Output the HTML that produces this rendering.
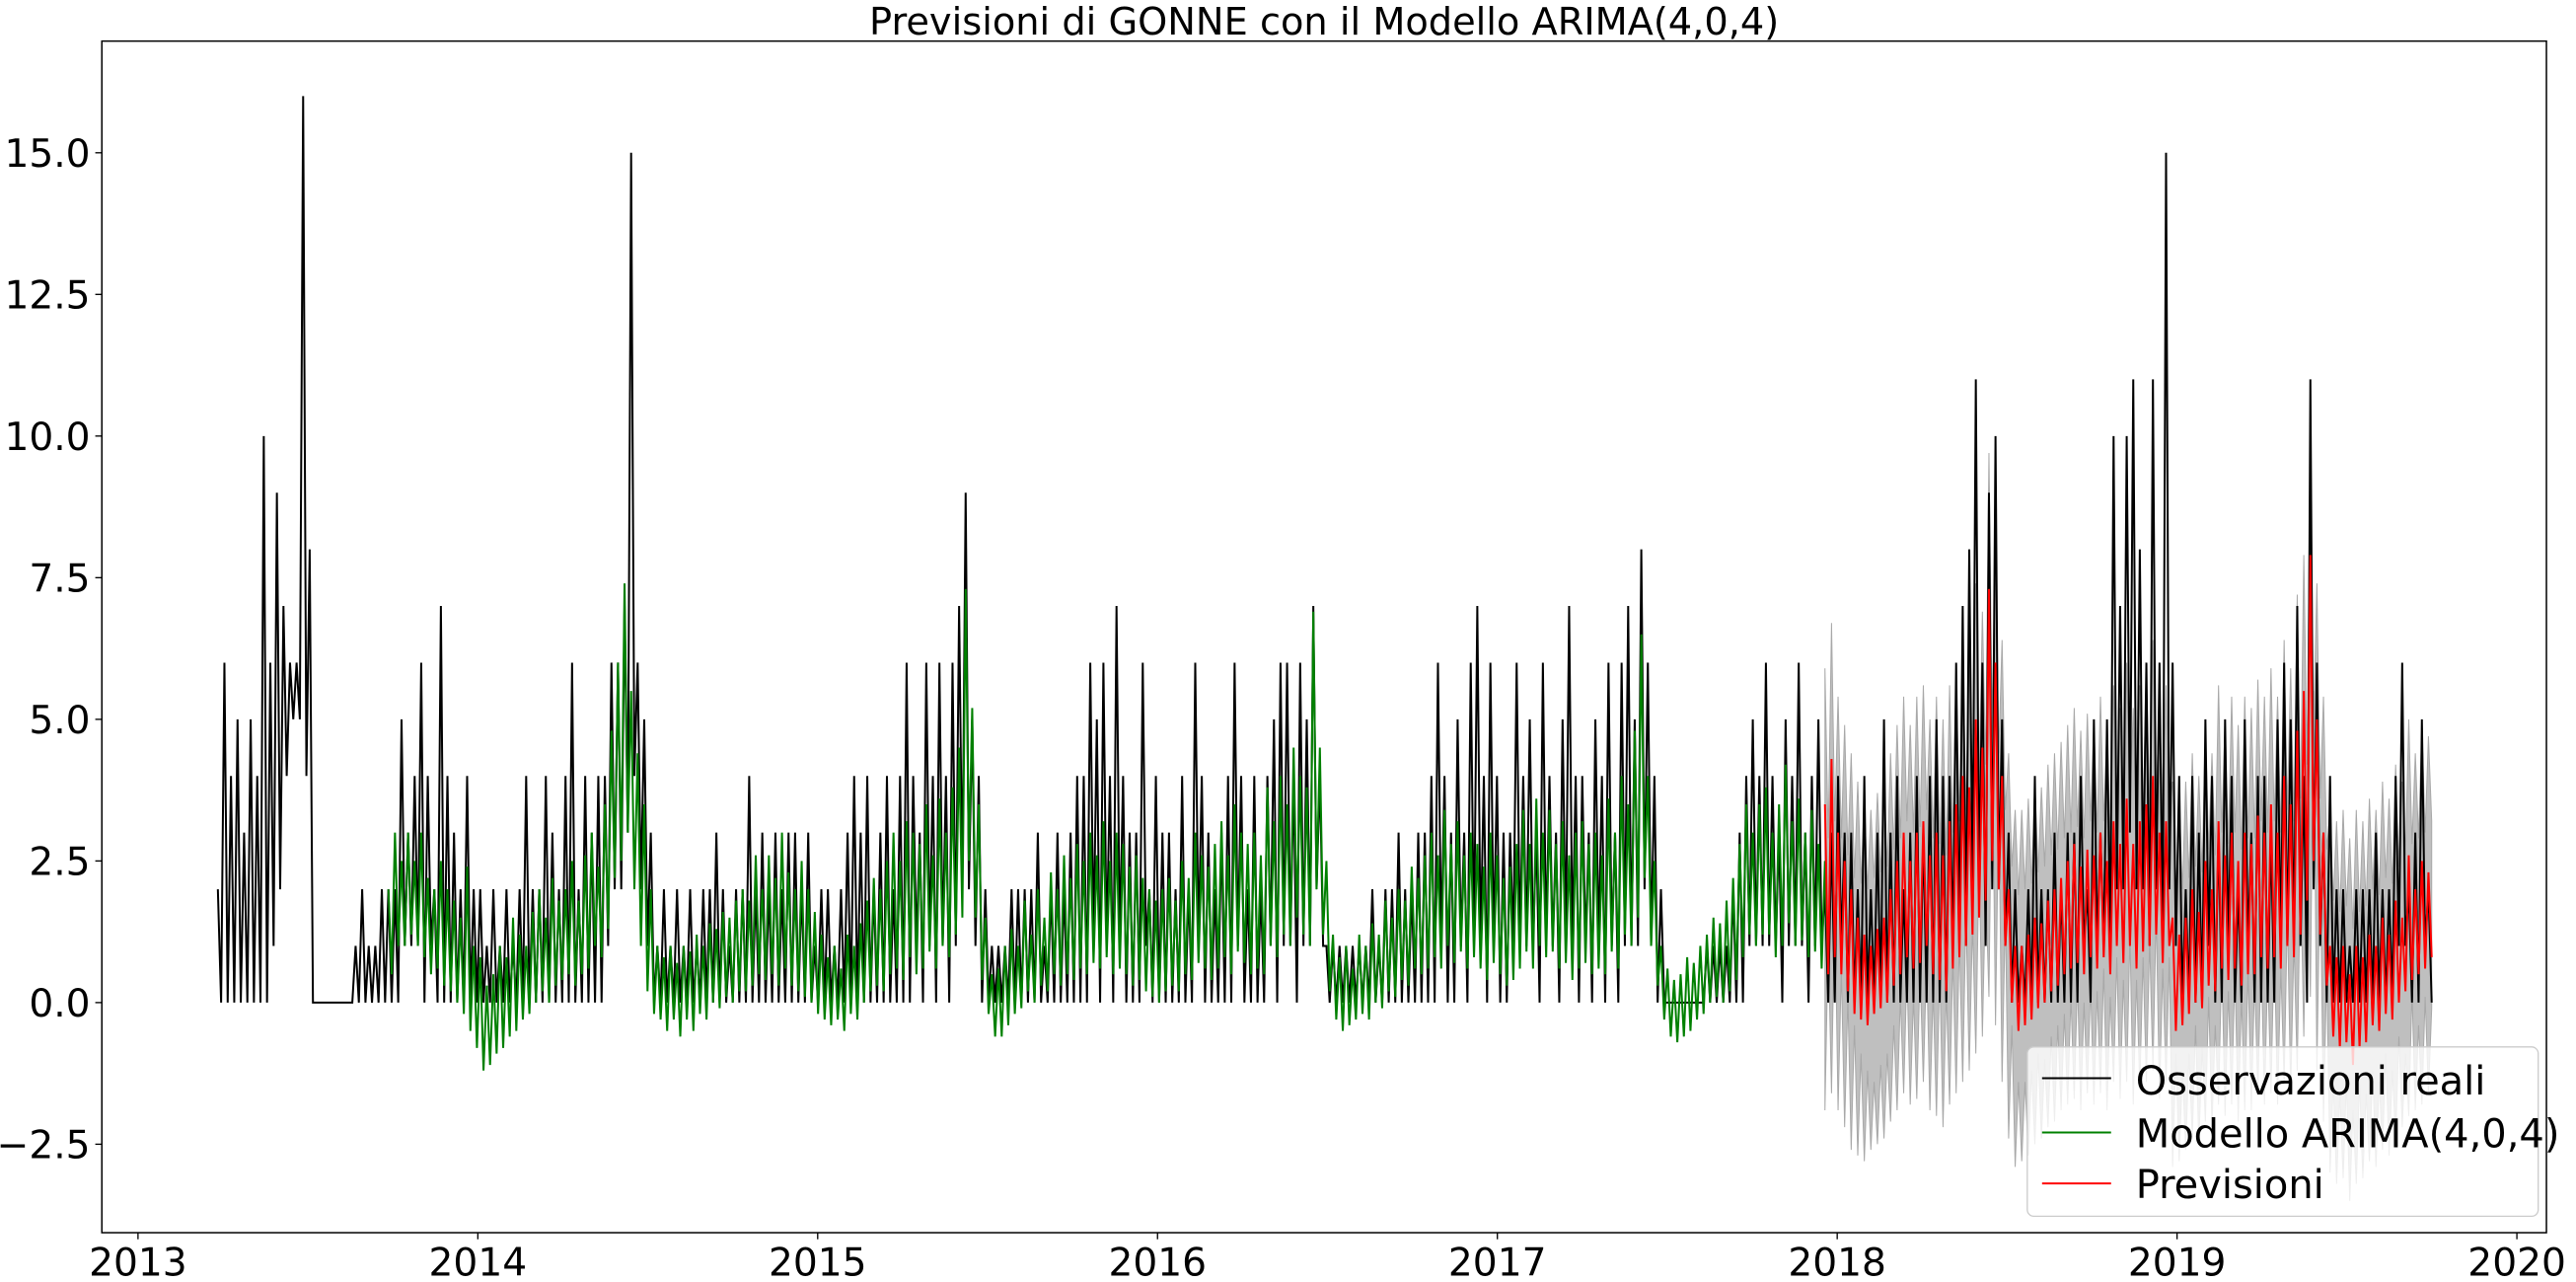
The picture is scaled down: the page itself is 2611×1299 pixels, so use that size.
<!DOCTYPE html>
<html><head><meta charset="utf-8">
<style>
html,body{margin:0;padding:0;background:#fff;}
svg{display:block;}
text{font-family:"DejaVu Sans","Liberation Sans",sans-serif;fill:#000;}
</style></head>
<body>
<svg id="chart" width="2611" height="1299" viewBox="0 0 1568 780" preserveAspectRatio="none" xmlns="http://www.w3.org/2000/svg">
<rect x="0" y="0" width="1568" height="780" fill="#fff"/>
<text x="806" y="21" font-size="23" text-anchor="middle">Previsioni di GONNE con il Modello ARIMA(4,0,4)</text>
<g id="band"></g>
<g id="obs"></g>
<g id="model"></g>
<g id="fc"></g>
<rect x="62" y="25" width="1488" height="725" fill="none" stroke="#000" stroke-width="0.9"/>
<g id="yaxis"></g>
<g id="xaxis"></g>
<g>
<rect x="1234" y="637" width="311" height="103" rx="4" fill="#fff" fill-opacity="0.8" stroke="#cccccc" stroke-width="0.8"/>
<g><line x1="1243" y1="656" x2="1285" y2="656" stroke="#000" stroke-width="1.2"/><text x="1300" y="666" font-size="24">Osservazioni reali</text></g>
<g><line x1="1243" y1="689" x2="1285" y2="689" stroke="#008000" stroke-width="1.2"/><text x="1300" y="698" font-size="24">Modello ARIMA(4,0,4)</text></g>
<g><line x1="1243" y1="720" x2="1285" y2="720" stroke="#ff0000" stroke-width="1.2"/><text x="1300" y="729" font-size="24">Previsioni</text></g>
</g>
</svg>
<script>
// weekly data
const startYear = 2013.235;
const obsPeak = [
2,6,4,5,3,5,4,10,6,9,7,6,6,16,8,0,0,0,0,0,0,1,2,1,1,2,2,2,5,3,4,6,4,2,7,4,3,2,4,2,2,
1,2,1,2,1,2,4,2,2,4,3,2,4,6,2,4,3,4,4,6,6,7,15,6,5,3,1,2,1,2,1,2,1,2,2,3,2,1,2,2,4,2,3,2,3,2,3,3,2,3,1,2,
2,1,2,3,4,3,4,2,3,4,2,4,6,4,3,6,4,6,4,6,7,9,5,4,2,1,1,1,2,2,2,2,3,1,2,3,2,3,4,4,6,5,6,4,7,4,3,3,6,2,4,3,
3,2,4,2,6,4,3,2,3,4,6,4,2,4,2,4,5,6,6,4,6,5,7,4,1,1,1,1,1,1,1,2,1,2,2,3,2,2,3,3,4,6,4,3,5,3,6,7,4,6,4,3,
3,6,4,5,3,6,4,3,5,7,4,4,3,5,4,6,3,6,7,5,8,6,4,2,0,0,0,0,0,0,1,1,1,1,2,3,4,5,4,6,4,3,5,4,6,3,4,5,2,3,4,3,
3,2,4,2,3,5,3,4,2,3,4,3,4,5,4,4,6,7,8,11,6,9,10,5,3,2,1,2,4,2,2,3,2,3,3,4,2,5,3,5,10,7,10,11,8,6,11,6,15,6,
4,2,4,3,5,4,3,5,4,2,5,3,4,4,3,5,6,5,7,4,11,6,3,4,2,2,1,2,2,2,3,2,2,4,6,2,3,5,2];
const obsTrough = [
0,0,0,0,0,0,0,0,1,2,4,5,5,4,0,0,0,0,0,0,0,0,0,0,0,0,0,0,1,1,1,0,1,0,0,0,0,0,0,0,0,
0,0,0,0,0,0,0,0,0,0,0,0,0,0,0,0,0,0,1,2,2,3,4,2,1,0,0,0,0,0,0,0,0,0,0,0,0,0,0,0,0,0,0,0,0,0,0,0,0,0,0,0,
0,0,0,0,0,0,0,0,0,0,0,0,0,1,0,1,0,1,0,1,2,2,1,0,0,0,0,0,0,0,0,0,0,0,0,0,0,0,0,0,1,0,1,0,1,0,0,0,1,0,0,0,
0,0,0,0,1,0,0,0,0,0,1,0,0,0,0,1,0,1,1,0,1,1,2,1,0,0,0,0,0,0,0,0,0,0,0,0,0,0,0,0,0,1,0,0,1,0,1,1,0,1,0,0,
1,1,1,1,0,1,1,0,1,1,0,1,0,1,0,1,0,1,1,1,2,1,0,0,0,0,0,0,0,0,0,0,0,0,0,0,1,1,1,1,1,0,1,1,1,0,1,1,0,0,1,0,
0,0,0,0,0,0,0,0,0,0,0,0,0,0,0,1,1,1,2,2,1,2,2,1,0,0,0,0,0,0,0,0,0,0,0,1,0,1,1,1,2,2,3,2,2,1,2,1,2,1,
0,0,0,0,1,0,0,1,0,0,1,0,0,0,0,1,1,1,1,0,2,1,0,0,0,0,0,0,0,0,0,0,0,1,1,0,0,1,0];
const modelStartWeek = 26;
const modelHigh = [
2,3,2.5,3,2.5,3,2.2,2,2.5,2,1.8,1.5,2.4,1,0.8,
0.3,0.5,1.0,0.8,1.5,1.2,1.0,1.6,2.0,1.5,2.2,1.8,2.0,2.5,1.8,2.6,3.0,2.4,3.5,4.8,6.0,7.4,5.5,4.4,3.5,2.0,
1.0,0.8,1.0,0.7,1.0,0.9,1.2,1.0,1.4,1.3,1.6,1.5,1.8,2.0,1.8,2.6,2.0,2.6,2.2,3.0,2.3,2.0,2.5,2.0,1.6,1.2,
0.8,1.0,0.6,1.2,1.0,1.4,1.8,2.2,2.0,2.5,3.0,2.5,3.2,3.0,2.8,3.5,2.6,3.6,3.0,3.8,4.5,7.3,5.2,3.5,1.5,0.5,
0.6,1.0,1.3,1.0,1.8,1.2,2.0,1.5,2.3,2.0,2.6,2.2,2.8,2.5,3.0,2.6,3.2,2.5,3.0,2.8,2.4,2.6,2.2,2.0,1.8,2.0,
2.2,1.8,2.5,2.2,3.0,2.6,2.4,2.8,3.2,2.6,3.5,3.0,2.8,3.0,2.6,3.8,3.2,4.0,3.5,4.5,4.0,3.8,6.9,4.5,2.5,1.2,
0.8,1.0,0.6,1.2,1.0,1.4,1.2,1.8,1.5,2.0,1.8,2.4,2.2,2.6,3.0,2.6,3.4,2.8,3.2,2.6,3.0,2.8,2.4,3.0,2.6,2.2,
2.4,2.8,3.4,2.8,3.6,3.0,3.4,2.8,3.2,2.6,3.0,3.2,2.8,3.0,2.6,3.6,3.0,4.0,3.5,4.8,6.5,4.0,2.5,1.0,0.6,0.4,
0.5,0.8,0.7,1.0,1.2,1.5,1.4,1.8,2.2,2.8,3.5,3.0,3.5,3.8,3.0,3.5,4.2,3.2,3.6,3.0,3.4,2.8,2.5];
const modelLow = [
0.5,1,1,1.2,1,0.8,0.5,0.6,0.3,0.2,0,-0.2,-0.5,-0.8,-1.2,
-1.1,-0.9,-0.8,-0.6,-0.5,-0.3,-0.2,0,0.2,0,0.3,0.4,0.5,0.3,0.5,0.6,1.0,0.8,1.3,2.2,2.5,3.0,2.0,1.0,0.2,-0.2,
-0.3,-0.5,-0.3,-0.6,-0.3,-0.5,-0.2,-0.3,0,-0.1,0.1,0,0.2,0.2,0.3,0.5,0.4,0.5,0.3,0.6,0.3,0.2,0.1,0,-0.2,-0.3,
-0.4,-0.3,-0.5,-0.2,-0.3,0,0.2,0.3,0.2,0.5,0.6,0.4,0.8,0.5,0.6,0.9,0.6,1.0,0.8,1.2,1.5,2.5,1.5,0.4,-0.2,-0.6,
-0.6,-0.4,-0.2,-0.1,0.2,0,0.3,0.2,0.5,0.3,0.5,0.4,0.6,0.5,0.7,0.6,0.8,0.5,0.6,0.5,0.3,0.4,0.2,0.1,0,0.2,
0.3,0.2,0.5,0.4,0.7,0.6,0.4,0.6,0.8,0.5,0.9,0.7,0.5,0.6,0.5,1.0,0.8,1.2,1.0,1.5,1.2,1.0,2.0,1.2,0.2,-0.3,
-0.5,-0.4,-0.3,-0.2,-0.3,0,-0.1,0.2,0.1,0.4,0.3,0.6,0.5,0.6,0.8,0.6,1.0,0.7,0.9,0.6,0.8,0.6,0.4,0.7,0.5,0.3,
0.4,0.6,0.9,0.6,1.0,0.8,0.9,0.6,0.7,0.4,0.6,0.7,0.5,0.6,0.5,0.9,0.6,1.2,1.0,1.5,2.2,1.0,0.3,-0.3,-0.6,-0.7,
-0.6,-0.5,-0.3,-0.2,0,0.1,0,0.2,0.4,0.8,1.2,1.0,1.2,1.2,0.8,1.0,1.4,1.0,1.1,0.8,0.9,0.6,0.5];
const fcStartWeek = 245;
const fcHigh = [
3.5,4.3,3.0,2.5,
2.0,1.5,1.2,1.0,1.3,1.5,2.0,2.5,3.0,2.5,3.0,3.2,2.6,3.0,2.6,3.2,3.5,4.0,3.8,5.0,4.5,7.3,6.0,4.0,2.0,1.0,
1.0,1.2,1.5,1.4,1.8,2.0,2.2,2.5,2.8,2.4,2.7,2.6,3.0,2.5,3.2,2.8,3.6,2.8,3.2,3.5,4.0,3.0,3.2,1.5,
1.2,1.5,2.0,1.6,2.5,2.0,3.2,2.6,3.0,2.5,3.0,2.8,3.3,3.0,3.5,3.0,4.0,3.5,4.8,5.5,7.9,5.0,3.0,1.0,0.8,1.0,
0.5,1.0,0.8,1.2,1.0,1.5,1.2,1.8,1.5,2.6,2.0,2.5,2.3];
const fcLow = [
0.5,0.8,0.5,0.2,
-0.2,-0.3,-0.4,-0.2,-0.1,0,0.3,0.5,0.8,0.6,0.7,1.0,0.5,0.4,0.2,0.6,0.8,1.0,1.2,1.5,1.8,2.5,2.0,1.0,0,-0.5,
-0.4,-0.3,-0.1,0,0.2,0.3,0.5,0.6,0.7,0.5,0.8,0.6,0.8,0.5,1.0,0.7,1.0,0.6,0.9,1.0,1.2,0.7,1.0,-0.5,
-0.4,-0.2,0.0,-0.1,0.3,0.2,0.6,0.4,0.6,0.3,0.5,0.5,0.8,0.6,0.8,0.6,1.0,0.8,1.2,1.8,2.5,1.2,0.3,-0.6,-0.8,-0.7,
-1.1,-0.8,-0.7,-0.4,-0.5,-0.2,-0.3,0,0.2,0.4,0.5,0.6,0.8];
const ciHalfWidth = 2.4;
const yTicks = [-2.5, 0, 2.5, 5, 7.5, 10, 12.5, 15];
const yTickLabels = ["\u22122.5","0.0","2.5","5.0","7.5","10.0","12.5","15.0"];
const xTicks = [2013,2014,2015,2016,2017,2018,2019,2020];

const NS = "http://www.w3.org/2000/svg";
function xs(year){ return 84 + (year - 2013) * 206.86; }
function ys(v){ return 610 - v * 34.47; }
function wk(i){ return startYear + i * 7.05 / 365.25; }
const halfWeek = 3.5 / 365.25;

function zigzag(hi, lo, offset){
  const pts = [];
  for (let i = 0; i < hi.length; i++){
    const t = wk(offset + i);
    pts.push(xs(t).toFixed(2) + "," + ys(hi[i]).toFixed(2));
    pts.push(xs(t + halfWeek).toFixed(2) + "," + ys(lo[i]).toFixed(2));
  }
  return pts;
}
function addLine(parentId, pts, color, w, name){
  const pl = document.createElementNS(NS, "polyline");
  pl.setAttribute("points", pts.join(" "));
  pl.setAttribute("fill", "none");
  pl.setAttribute("stroke", color);
  pl.setAttribute("stroke-width", w);
  
  
  document.getElementById(parentId).appendChild(pl);
}

(function(){
  const up = [], dn = [];
  for (let i = 0; i < fcHigh.length; i++){
    const t = wk(fcStartWeek + i);
    up.push(xs(t).toFixed(2) + "," + ys(fcHigh[i] + ciHalfWidth).toFixed(2));
    up.push(xs(t + halfWeek).toFixed(2) + "," + ys(fcLow[i] + ciHalfWidth).toFixed(2));
    dn.push(xs(t).toFixed(2) + "," + ys(fcLow[i] - ciHalfWidth).toFixed(2));
    dn.push(xs(t + halfWeek).toFixed(2) + "," + ys(fcHigh[i] - ciHalfWidth).toFixed(2));
  }
  const poly = document.createElementNS(NS, "polygon");
  poly.setAttribute("points", up.concat(dn.reverse()).join(" "));
  poly.setAttribute("fill", "#bfbfbf");
  poly.setAttribute("stroke", "#a8a8a8");
  poly.setAttribute("stroke-width", "0.6");
  
  
  document.getElementById("band").appendChild(poly);
})();

addLine("obs", zigzag(obsPeak, obsTrough, 0), "#000", 1.2, "observed-line");
addLine("model", zigzag(modelHigh, modelLow, modelStartWeek), "#008000", 1.2, "model-line");
addLine("fc", zigzag(fcHigh, fcLow, fcStartWeek), "#ff0000", 1.2, "forecast-line");

yTicks.forEach(function(v, k){
  const y = ys(v);
  const tk = document.createElementNS(NS, "line");
  tk.setAttribute("x1", 58); tk.setAttribute("x2", 62);
  tk.setAttribute("y1", y); tk.setAttribute("y2", y);
  tk.setAttribute("stroke", "#000"); tk.setAttribute("stroke-width", "0.8");
  
  
  document.getElementById("yaxis").appendChild(tk);
  const tx = document.createElementNS(NS, "text");
  tx.setAttribute("x", 55); tx.setAttribute("y", y + 8.5);
  tx.setAttribute("font-size", "23.5"); tx.setAttribute("text-anchor", "end");
  tx.textContent = yTickLabels[k];
  
  
  document.getElementById("yaxis").appendChild(tx);
});
xTicks.forEach(function(yr){
  const x = xs(yr);
  const tk = document.createElementNS(NS, "line");
  tk.setAttribute("x1", x); tk.setAttribute("x2", x);
  tk.setAttribute("y1", 750); tk.setAttribute("y2", 754);
  tk.setAttribute("stroke", "#000"); tk.setAttribute("stroke-width", "0.8");
  
  
  document.getElementById("xaxis").appendChild(tk);
  const tx = document.createElementNS(NS, "text");
  tx.setAttribute("x", x); tx.setAttribute("y", 776);
  tx.setAttribute("font-size", "23.5"); tx.setAttribute("text-anchor", "middle");
  tx.textContent = String(yr);
  
  
  document.getElementById("xaxis").appendChild(tx);
});
</script>
</body></html>
